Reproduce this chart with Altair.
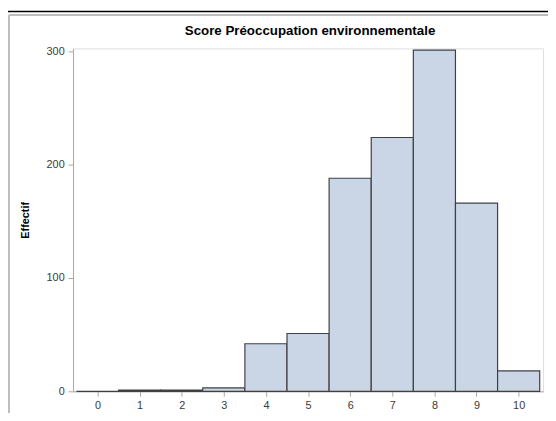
import altair as alt
import pandas as pd

# Data
scores = [0, 1, 2, 3, 4, 5, 6, 7, 8, 9, 10]
counts = [0, 1, 1, 3, 42, 51, 188, 224, 301, 166, 18]
x_ticks = [0, 1, 2, 3, 4, 5, 6, 7, 8, 9, 10]
y_ticks = [0, 100, 200, 300]
title_text = "Score Préoccupation environnementale"
y_title = "Effectif"

df = pd.DataFrame({"score": scores, "count": counts})

FONT = "Liberation Sans"
W, H = 477, 348

xscale = alt.Scale(domain=[-0.58, 10.58], nice=False, zero=False)
yscale = alt.Scale(domain=[0, 302.6], nice=False)

bars = (
    alt.Chart(df)
    .transform_calculate(lo="datum.score - 0.5", hi="datum.score + 0.5")
    .mark_rect(fill="#CAD5E5", stroke="#404040", strokeWidth=1.2)
    .encode(
        x=alt.X(
            "lo:Q",
            scale=xscale,
            axis=alt.Axis(
                values=x_ticks,
                title=None,
                grid=False,
                format="d",
                labelFont=FONT,
                labelFontSize=11,
                labelColor="#3a3a3a",
                labelPadding=3,
                tickSize=5,
                tickColor="#a8a8a8",
                domainColor="#a8a8a8",
            ),
        ),
        x2="hi:Q",
        y=alt.Y(
            "count:Q",
            scale=yscale,
            axis=alt.Axis(
                values=y_ticks,
                title=y_title,
                grid=False,
                labelFont=FONT,
                labelFontSize=11,
                labelColor="#3a3a3a",
                labelPadding=4,
                tickSize=5,
                tickColor="#a8a8a8",
                domainColor="#a8a8a8",
                titleFont=FONT,
                titleFontSize=11,
                titleFontWeight="bold",
                titleColor="#000000",
                titlePadding=16,
            ),
        ),
        y2=alt.datum(0),
    )
)

one = pd.DataFrame({"a": [0]})
# outer frame (top & left) and table line at top
frame_top = alt.Chart(one).mark_rule(color="#bdbdbd", strokeWidth=2).encode(
    x=alt.value(-65), x2=alt.value(W + 10), y=alt.value(-34)
)
frame_left = alt.Chart(one).mark_rule(color="#bdbdbd", strokeWidth=2).encode(
    x=alt.value(-65), y=alt.value(-34), y2=alt.value(H + 40)
)
table_line = alt.Chart(one).mark_rule(color="#000000", strokeWidth=1.5).encode(
    x=alt.value(-70), x2=alt.value(W + 10), y=alt.value(-37.5)
)
title = alt.Chart(one).mark_text(
    font=FONT, fontSize=13.5, fontWeight="bold", color="#000000",
    align="center", baseline="alphabetic",
).encode(text=alt.value(title_text), x=alt.value(W / 2 + 2), y=alt.value(-14))

chart = (
    alt.layer(table_line, frame_top, frame_left, title, bars)
    .properties(
        width=W,
        height=H,
        autosize=alt.AutoSizeParams(type="none"),
        padding={"left": 66, "top": 38, "right": 5, "bottom": 19},
    )
    .configure_view(stroke="#d9d9d9", strokeWidth=1)
    .configure(background="white")
)

chart.save("out.html", embed_options={"renderer": "svg", "actions": False})
